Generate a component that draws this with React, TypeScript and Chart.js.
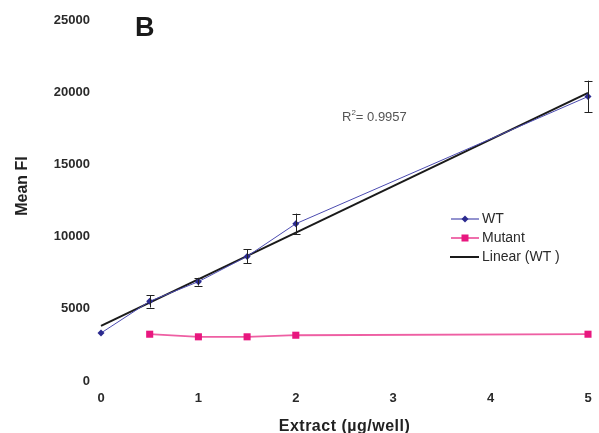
import React, { useEffect, useRef } from 'react';
import { Chart, registerables } from 'chart.js';
Chart.register(...registerables);

const xTicks = [0, 1, 2, 3, 4, 5];
const yTicks = [0, 5000, 10000, 15000, 20000, 25000];
const wtX = [0, 0.5, 1, 1.5, 2, 5];
const wtY = [3320, 5520, 6880, 8630, 10890, 19700];
const wtErr = [0, 430, 270, 480, 700, 1100];
const mutX = [0.5, 1, 1.5, 2, 5];
const mutY = [3240, 3060, 3060, 3170, 3240];
const fitX = [0, 5];
const fitY = [3820, 19950];
const seriesNames = ['WT', 'Mutant', 'Linear (WT )'];
const rSquared = '0.9957';
const panelLabel = 'B';
const xTitle = 'Extract (\u00b5g/well)';
const yTitle = 'Mean FI';

const FONT = "'Liberation Sans', Arial, Helvetica, sans-serif";
const WT_LINE = '#4b4bb0';
const WT_MARK = '#2b2a8f';
const MUT_LINE = '#ee5fa3';
const MUT_MARK = '#e8177f';
const FIT = '#1a1a1a';

const extras = {
  id: 'extras',
  afterDatasetsDraw(chart: any) {
    const ctx = chart.ctx;
    const xs = chart.scales.x;
    const ys = chart.scales.y;
    const ca = chart.chartArea;
    ctx.save();
    // error bars
    ctx.strokeStyle = '#222';
    ctx.lineWidth = 1;
    wtX.forEach((xv, i) => {
      const e = wtErr[i];
      if (!e) return;
      const px = Math.round(xs.getPixelForValue(xv)) + 0.5;
      const top = ys.getPixelForValue(wtY[i] + e);
      const bot = ys.getPixelForValue(wtY[i] - e);
      ctx.beginPath();
      ctx.moveTo(px, top);
      ctx.lineTo(px, bot);
      ctx.moveTo(px - 4, Math.round(top) + 0.5);
      ctx.lineTo(px + 4, Math.round(top) + 0.5);
      ctx.moveTo(px - 4, Math.round(bot) + 0.5);
      ctx.lineTo(px + 4, Math.round(bot) + 0.5);
      ctx.stroke();
    });
    // panel label
    ctx.fillStyle = '#1a1a1a';
    ctx.font = `bold 27px ${FONT}`;
    ctx.textAlign = 'left';
    ctx.textBaseline = 'middle';
    ctx.fillText(panelLabel, 135, 29);
    // R squared
    ctx.fillStyle = '#555';
    ctx.font = `13px ${FONT}`;
    let tx = 342;
    const ty = 117;
    ctx.fillText('R', tx, ty);
    tx += ctx.measureText('R').width;
    ctx.font = `8px ${FONT}`;
    ctx.fillText('2', tx, ty - 4);
    tx += ctx.measureText('2').width;
    ctx.font = `13px ${FONT}`;
    ctx.fillText('= ' + rSquared, tx, ty);
    // axis titles
    ctx.fillStyle = '#222';
    ctx.font = `bold 16px ${FONT}`;
    ctx.textAlign = 'center';
    try { (ctx as any).letterSpacing = '0.5px'; } catch (e) { /* ignore */ }
    ctx.fillText(xTitle, (ca.left + ca.right) / 2, 427);
    try { (ctx as any).letterSpacing = '0px'; } catch (e) { /* ignore */ }
    ctx.save();
    ctx.translate(23, 186);
    ctx.rotate(-Math.PI / 2);
    ctx.font = `bold 16px ${FONT}`;
    ctx.fillText(yTitle, 0, 0);
    ctx.restore();
    // legend
    const lx0 = 451, lx1 = 479, ltx = 482;
    const rows = [219, 238, 257];
    ctx.textAlign = 'left';
    ctx.font = `14px ${FONT}`;
    // WT
    ctx.strokeStyle = WT_LINE; ctx.lineWidth = 1.2;
    ctx.beginPath(); ctx.moveTo(lx0, rows[0]); ctx.lineTo(lx1, rows[0]); ctx.stroke();
    ctx.fillStyle = WT_MARK;
    ctx.beginPath();
    const cx = (lx0 + lx1) / 2;
    ctx.moveTo(cx, rows[0] - 3.5); ctx.lineTo(cx + 3.5, rows[0]); ctx.lineTo(cx, rows[0] + 3.5); ctx.lineTo(cx - 3.5, rows[0]); ctx.closePath(); ctx.fill();
    // Mutant
    ctx.strokeStyle = MUT_LINE; ctx.lineWidth = 1.8;
    ctx.beginPath(); ctx.moveTo(lx0, rows[1]); ctx.lineTo(lx1, rows[1]); ctx.stroke();
    ctx.fillStyle = MUT_MARK;
    ctx.fillRect(cx - 3.5, rows[1] - 3.5, 7, 7);
    // Linear
    ctx.strokeStyle = FIT; ctx.lineWidth = 2;
    ctx.beginPath(); ctx.moveTo(lx0 - 1, rows[2]); ctx.lineTo(lx1, rows[2]); ctx.stroke();
    ctx.fillStyle = '#2a2a2a';
    rows.forEach((r, i) => ctx.fillText(seriesNames[i], ltx, r + 0.5));
    ctx.restore();
  },
};

export default function App() {
  const ref = useRef<HTMLCanvasElement | null>(null);
  useEffect(() => {
    if (!ref.current) return;
    const chart = new Chart(ref.current, {
      type: 'scatter',
      data: {
        datasets: [
          {
            label: seriesNames[1],
            data: mutX.map((x, i) => ({ x, y: mutY[i] })),
            showLine: true,
            borderColor: MUT_LINE,
            borderWidth: 1.8,
            pointStyle: 'rect',
            pointRadius: 5,
            pointBackgroundColor: MUT_MARK,
            pointBorderColor: MUT_MARK,
            pointBorderWidth: 0,
            clip: false,
          } as any,
          {
            label: seriesNames[0],
            data: wtX.map((x, i) => ({ x, y: wtY[i] })),
            showLine: true,
            borderColor: WT_LINE,
            borderWidth: 1,
            pointStyle: 'rectRot',
            pointRadius: 3.5,
            pointBackgroundColor: WT_MARK,
            pointBorderColor: WT_MARK,
            pointBorderWidth: 0,
            clip: false,
          } as any,
          {
            label: seriesNames[2],
            data: fitX.map((x, i) => ({ x, y: fitY[i] })),
            showLine: true,
            borderColor: FIT,
            borderWidth: 2,
            pointRadius: 0,
            clip: false,
          } as any,
        ],
      },
      options: {
        animation: false,
        responsive: false,
        events: [],
        layout: { padding: { top: 20, right: 11, left: 0, bottom: 0 } },
        plugins: { legend: { display: false }, tooltip: { enabled: false } },
        scales: {
          x: {
            type: 'linear',
            min: 0,
            max: 5,
            afterBuildTicks: (s: any) => { s.ticks = xTicks.map((v) => ({ value: v })); },
            afterFit: (s: any) => { s.height = 52; s.paddingLeft = 0; s.paddingRight = 0; },
            grid: { display: false, drawTicks: false },
            border: { display: false },
            ticks: { padding: 10, color: '#2a2a2a', font: { family: FONT, size: 13, weight: 'bold' } },
          },
          y: {
            type: 'linear',
            min: 0,
            max: 25000,
            afterBuildTicks: (s: any) => { s.ticks = yTicks.map((v) => ({ value: v })); },
            afterFit: (s: any) => { s.width = 101; s.paddingTop = 0; s.paddingBottom = 0; },
            grid: { display: false, drawTicks: false },
            border: { display: false },
            ticks: { padding: 11, color: '#2a2a2a', font: { family: FONT, size: 13, weight: 'bold' }, callback: (v: any) => String(v) },
          },
        },
      } as any,
      plugins: [extras],
    });
    return () => chart.destroy();
  }, []);
  return (
    <div style={{ position: 'fixed', left: 0, top: 0, width: 599, height: 433, background: '#fff' }}>
      <canvas ref={ref} width={599} height={433} style={{ width: 599, height: 433, display: 'block' }} />
    </div>
  );
}
